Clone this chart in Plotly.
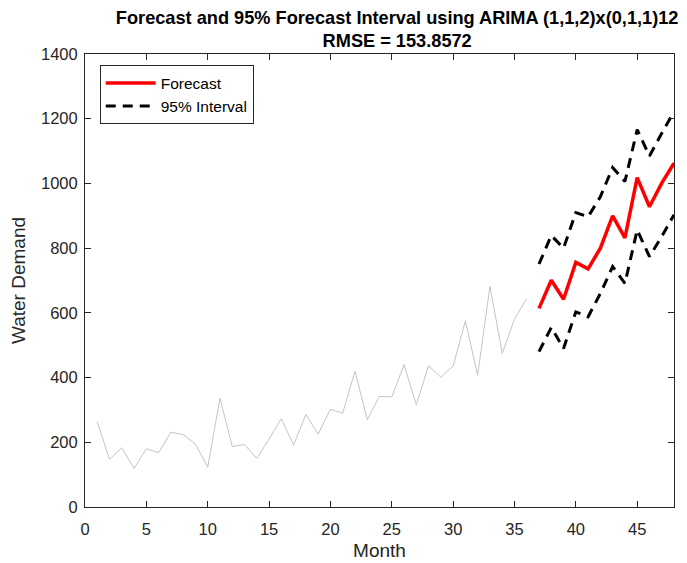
import plotly.graph_objects as go

months_hist = list(range(1, 37))
demand_hist = [263, 147, 183, 119, 180, 168, 231, 224, 194, 123, 336, 187,
               193, 150, 210, 273, 191, 286, 225, 302, 290, 420, 270, 342,
               340, 440, 316, 437, 401, 436, 575, 407, 682, 475, 580, 645]

months_fc = list(range(37, 49))
forecast = [614, 701, 642, 756, 736, 800, 900, 832, 1018, 928, 1001, 1063]
upper = [751, 839, 800, 910, 897, 959, 1049, 1006, 1166, 1085, 1155, 1222]
lower = [480, 555, 490, 603, 588, 660, 743, 691, 856, 774, 836, 903]

x_ticks = [0, 5, 10, 15, 20, 25, 30, 35, 40, 45]
y_ticks = [0, 200, 400, 600, 800, 1000, 1200, 1400]

FONT = "Liberation Sans, Arial, sans-serif"
AX = "#262626"

fig = go.Figure()
fig.add_trace(go.Scatter(x=months_hist, y=demand_hist, mode="lines",
                         line=dict(color="#c4c4c4", width=1), showlegend=False))
fig.add_trace(go.Scatter(x=months_fc, y=forecast, mode="lines", name="Forecast",
                         line=dict(color="#ff0000", width=3.5)))
fig.add_trace(go.Scatter(x=months_fc, y=upper, mode="lines", name="95% Interval",
                         line=dict(color="black", width=3, dash="10px,7px")))
fig.add_trace(go.Scatter(x=months_fc, y=lower, mode="lines", name="95% Interval",
                         line=dict(color="black", width=3, dash="10px,7px"), showlegend=False))

axis_common = dict(showline=True, linecolor=AX, linewidth=1, mirror="ticks",
                   ticks="inside", ticklen=6, tickcolor=AX, tickwidth=1,
                   showgrid=False, zeroline=False, automargin=False,
                   tickfont=dict(family=FONT, size=16.5, color=AX))

# page body adds an 8px margin on the left/top, so the figure is sized/placed to compensate
fig.update_layout(
    width=679, height=555,
    margin=dict(l=77, r=13, t=46, b=56),
    paper_bgcolor="white", plot_bgcolor="white",
    title=dict(text="<b>Forecast and 95% Forecast Interval using ARIMA (1,1,2)x(0,1,1)12<br>RMSE = 153.8572</b>",
               xref="paper", x=0.53, xanchor="center", yref="container", y=0.972, yanchor="top",
               font=dict(family=FONT, size=18.2, color="black")),
    xaxis=dict(range=[0, 48], tickvals=x_ticks, ticklabelstandoff=7,
               title=dict(text="Month", font=dict(family=FONT, size=19, color=AX), standoff=6),
               **axis_common),
    yaxis=dict(range=[0, 1400], tickvals=y_ticks, ticklabelstandoff=3,
               title=dict(text="Water Demand", font=dict(family=FONT, size=19, color=AX), standoff=12),
               **axis_common),
    legend=dict(x=0.025, y=0.975, xanchor="left", yanchor="top",
                bgcolor="white", bordercolor=AX, borderwidth=1,
                font=dict(family=FONT, size=15.5, color="black"),
                itemwidth=50, tracegroupgap=0),
    showlegend=True,
)

fig.write_html("out.html")
